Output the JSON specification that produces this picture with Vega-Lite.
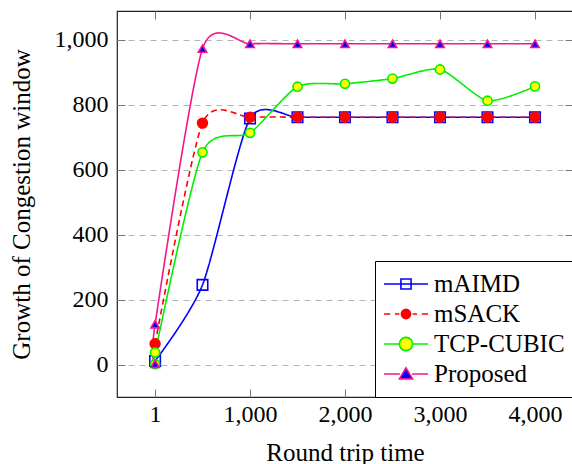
{
  "$schema": "https://vega.github.io/schema/vega-lite/v6.json",
  "autosize": {"type": "none"},
  "padding": {"left": 117, "top": 11, "right": 0, "bottom": 67},
  "width": 456,
  "height": 386,
  "config": {
    "view": {"stroke": "#222", "strokeWidth": 1.2},
    "font": "Liberation Serif",
    "axis": {
      "labelFont": "Liberation Serif",
      "titleFont": "Liberation Serif",
      "labelFontSize": 24,
      "titleFontSize": 25,
      "labelColor": "#000",
      "titleColor": "#000",
      "titleFontWeight": "normal",
      "domain": false,
      "tickColor": "#777",
      "tickWidth": 1,
      "tickSize": -8
    },
    "legend": {
      "labelFont": "Liberation Serif"
    }
  },
  "data": {
    "values": [
      {"s": "mAIMD", "i": 0, "x": 1, "y": 12},
      {"s": "mAIMD", "i": 1, "x": 500, "y": 246},
      {"s": "mAIMD", "i": 2, "x": 1000, "y": 758},
      {"s": "mAIMD", "i": 3, "x": 1500, "y": 762},
      {"s": "mAIMD", "i": 4, "x": 2000, "y": 762},
      {"s": "mAIMD", "i": 5, "x": 2500, "y": 762},
      {"s": "mAIMD", "i": 6, "x": 3000, "y": 762},
      {"s": "mAIMD", "i": 7, "x": 3500, "y": 762},
      {"s": "mAIMD", "i": 8, "x": 4000, "y": 762},
      {"s": "mSACK", "i": 0, "x": 1, "y": 65},
      {"s": "mSACK", "i": 1, "x": 500, "y": 744},
      {"s": "mSACK", "i": 2, "x": 1000, "y": 762},
      {"s": "mSACK", "i": 3, "x": 1500, "y": 762},
      {"s": "mSACK", "i": 4, "x": 2000, "y": 762},
      {"s": "mSACK", "i": 5, "x": 2500, "y": 762},
      {"s": "mSACK", "i": 6, "x": 3000, "y": 762},
      {"s": "mSACK", "i": 7, "x": 3500, "y": 762},
      {"s": "mSACK", "i": 8, "x": 4000, "y": 762},
      {"s": "TCP-CUBIC", "i": 0, "x": 1, "y": 2},
      {"s": "TCP-CUBIC", "i": 1, "x": 1, "y": 38},
      {"s": "TCP-CUBIC", "i": 2, "x": 500, "y": 654},
      {"s": "TCP-CUBIC", "i": 3, "x": 1000, "y": 714},
      {"s": "TCP-CUBIC", "i": 4, "x": 1500, "y": 856},
      {"s": "TCP-CUBIC", "i": 5, "x": 2000, "y": 865},
      {"s": "TCP-CUBIC", "i": 6, "x": 2500, "y": 881},
      {"s": "TCP-CUBIC", "i": 7, "x": 3000, "y": 909},
      {"s": "TCP-CUBIC", "i": 8, "x": 3500, "y": 813},
      {"s": "TCP-CUBIC", "i": 9, "x": 4000, "y": 857},
      {"s": "Proposed", "i": 0, "x": 1, "y": 3},
      {"s": "Proposed", "i": 1, "x": 1, "y": 125},
      {"s": "Proposed", "i": 2, "x": 500, "y": 973},
      {"s": "Proposed", "i": 3, "x": 1000, "y": 988},
      {"s": "Proposed", "i": 4, "x": 1500, "y": 988},
      {"s": "Proposed", "i": 5, "x": 2000, "y": 988},
      {"s": "Proposed", "i": 6, "x": 2500, "y": 988},
      {"s": "Proposed", "i": 7, "x": 3000, "y": 988},
      {"s": "Proposed", "i": 8, "x": 3500, "y": 988},
      {"s": "Proposed", "i": 9, "x": 4000, "y": 988}
    ]
  },
  "resolve": {
    "scale": {"stroke": "independent", "fill": "independent", "shape": "independent", "size": "independent", "strokeDash": "independent"},
    "axis": {"x": "independent", "y": "independent"}
  },
  "layer": [
    {
      "mark": {"type": "line", "interpolate": "cardinal", "tension": 0.3, "strokeWidth": 1.6, "clip": true},
      "encoding": {
        "x": {
          "field": "x", "type": "quantitative",
          "scale": {"domain": [-400, 4400], "nice": false, "zero": false},
          "axis": {"values": [1, 1000, 2000, 3000, 4000], "format": ",d", "title": "Round trip time", "labelPadding": 13, "titlePadding": 14, "grid": false}
        },
        "y": {
          "field": "y", "type": "quantitative",
          "scale": {"domain": [-99, 1089], "nice": false, "zero": false},
          "axis": {"values": [0, 200, 400, 600, 800, 1000], "format": ",d", "title": "Growth of Congestion window", "labelPadding": 17, "titlePadding": 20, "grid": true, "gridColor": "#b4b4b4", "gridDash": [6, 5], "gridWidth": 1}
        },
        "order": {"field": "i"},
        "detail": {"field": "s"},
        "stroke": {
          "field": "s", "type": "nominal", "legend": null,
          "scale": {"domain": ["mAIMD", "mSACK", "TCP-CUBIC", "Proposed"], "range": ["#0000ff", "#ff0000", "#00f000", "#f5158c"]}
        },
        "strokeDash": {
          "field": "s", "type": "nominal", "legend": null,
          "scale": {"domain": ["mAIMD", "mSACK", "TCP-CUBIC", "Proposed"], "range": [[1, 0], [6, 4], [1, 0], [1, 0]]}
        }
      }
    },
    {
      "mark": {"type": "point", "filled": false, "strokeWidth": 1.6, "opacity": 1},
      "encoding": {
        "x": {
          "field": "x", "type": "quantitative",
          "axis": {"orient": "top", "values": [1, 1000, 2000, 3000, 4000], "labels": false, "title": null, "grid": false}
        },
        "y": {
          "field": "y", "type": "quantitative",
          "axis": {"orient": "right", "values": [0, 200, 400, 600, 800, 1000], "labels": false, "title": null, "grid": false}
        },
        "shape": {
          "field": "s", "type": "nominal", "legend": null,
          "scale": {"domain": ["mAIMD", "mSACK", "TCP-CUBIC", "Proposed"], "range": ["square", "circle", "circle", "triangle-up"]}
        },
        "stroke": {
          "field": "s", "type": "nominal", "legend": null,
          "scale": {"domain": ["mAIMD", "mSACK", "TCP-CUBIC", "Proposed"], "range": ["#0000ff", "#ff0000", "#00f000", "#f5158c"]}
        },
        "fill": {
          "field": "s", "type": "nominal", "legend": null,
          "scale": {"domain": ["mAIMD", "mSACK", "TCP-CUBIC", "Proposed"], "range": ["transparent", "#ff0000", "#ffff00", "#0000ff"]}
        },
        "size": {
          "field": "s", "type": "nominal", "legend": null,
          "scale": {"domain": ["mAIMD", "mSACK", "TCP-CUBIC", "Proposed"], "range": [110, 70, 150, 150]}
        }
      }
    },
    {
      "transform": [{"filter": "false"}],
      "mark": {"type": "point", "strokeWidth": 1.6},
      "encoding": {
        "shape": {
          "field": "s", "type": "nominal",
          "scale": {"domain": ["mAIMD", "mSACK", "TCP-CUBIC", "Proposed"], "range": [
            "M-1,0H1M-0.23,-0.23H0.23V0.23H-0.23Z",
            "M-1,0H-0.72M-0.5,0H-0.3M0.3,0H0.5M0.72,0H1M-0.21,0A0.21,0.21 0 1,1 0.21,0A0.21,0.21 0 1,1 -0.21,0Z",
            "M-1,0H-0.3M0.3,0H1M-0.3,0A0.3,0.3 0 1,1 0.3,0A0.3,0.3 0 1,1 -0.3,0Z",
            "M-1,0H-0.28M0.28,0H1M0,-0.28L0.3,0.22L-0.3,0.22Z"
          ]},
          "legend": {
            "title": null, "orient": "bottom-right", "offset": 0,
            "strokeColor": "#000", "fillColor": "#fff", "padding": 8,
            "labelFont": "Liberation Serif", "labelFontSize": 25, "labelColor": "#000",
            "symbolSize": 1936, "symbolStrokeWidth": 1.6, "labelOffset": 5, "rowPadding": 0,
            "clipHeight": 30,
            "symbolOpacity": 1
          }
        },
        "stroke": {
          "field": "s", "type": "nominal",
          "scale": {"domain": ["mAIMD", "mSACK", "TCP-CUBIC", "Proposed"], "range": ["#0000ff", "#ff0000", "#00f000", "#f5158c"]}
        },
        "fill": {
          "field": "s", "type": "nominal",
          "scale": {"domain": ["mAIMD", "mSACK", "TCP-CUBIC", "Proposed"], "range": ["transparent", "#ff0000", "#ffff00", "#0000ff"]}
        }
      }
    }
  ]
}
